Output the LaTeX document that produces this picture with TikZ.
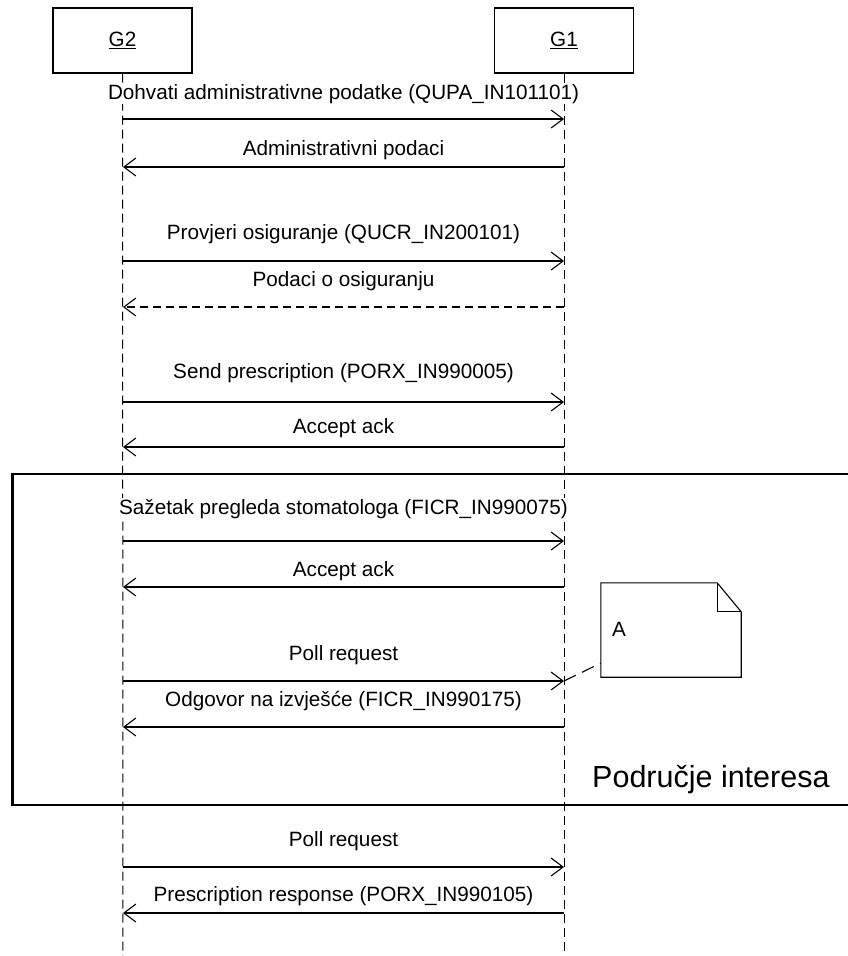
\documentclass[tikz,border=0pt]{standalone}
\usepackage{fontspec}
\setmainfont{Liberation Sans}
\usetikzlibrary{arrows.meta}
\begin{document}
\begin{tikzpicture}[x=1pt,y=-1pt,
  txt/.style={font=\fontsize{20.7}{25}\selectfont},
  actor/.style={draw,line width=1.2pt,minimum width=139pt,minimum height=65pt,inner sep=0pt,txt},
  lifeline/.style={line width=1pt,dash pattern=on 9pt off 5pt},
  msg/.style={line width=1.1pt,-{Straight Barb[length=12pt,width=18pt]}},
  reply/.style={msg,dash pattern=on 8pt off 5pt},
  lbl/.style={anchor=base,fill=white,inner sep=0.6pt,txt},
  frameline/.style={line width=2.7pt},
  notebox/.style={line width=1.1pt,fill=white},
  notelink/.style={line width=1.1pt,dash pattern=on 13pt off 7pt},
  bigtxt/.style={anchor=base west,inner sep=0pt,font=\fontsize{30.5}{36}\selectfont}]
\useasboundingbox (0,0) rectangle (848,956);
\clip (0,0) rectangle (848,956);
% actors
\node[actor] (g2) at (122.5,40.5) {\underline{G2}};
\node[actor] (g1) at (564,40.5) {\underline{G1}};
\coordinate (g2end) at (123,960);
\coordinate (g1end) at (564,960);
\draw[lifeline] (g2.south) -- (g2end);
\draw[lifeline] (g1.south) -- (g1end);
% message endpoints
\foreach \i/\y in {1/119,2/167,3/261,4/307,5/402,6/447,7/541,8/587,9/681,10/727,11/867,12/913}{
  \coordinate (a\i) at (123,\y);
  \coordinate (b\i) at (564,\y);
}
\draw[msg] (a1) -- (b1);
\draw[msg] (b2) -- (a2);
\draw[msg] (a3) -- (b3);
\draw[reply] (b4) -- (a4);
\draw[msg] (a5) -- (b5);
\draw[msg] (b6) -- (a6);
\draw[msg] (a7) -- (b7);
\draw[msg] (b8) -- (a8);
\draw[msg] (a9) -- (b9);
\draw[msg] (b10) -- (a10);
\draw[msg] (a11) -- (b11);
\draw[msg] (b12) -- (a12);
% labels
\node[lbl] (t1) at (343.5,99) {Dohvati administrativne podatke (QUPA\_IN101101)};
\node[lbl] (t2) at (343.5,155) {Administrativni podaci};
\node[lbl] (t3) at (343.5,239) {Provjeri osiguranje (QUCR\_IN200101)};
\node[lbl] (t4) at (343.5,286) {Podaci o osiguranju};
\node[lbl] (t5) at (343.5,378) {Send prescription (PORX\_IN990005)};
\node[lbl] (t6) at (343.5,433) {Accept ack};
\node[lbl] (t7) at (343.5,514) {Sažetak pregleda stomatologa (FICR\_IN990075)};
\node[lbl] (t8) at (343.5,576) {Accept ack};
\node[lbl] (t9) at (343.5,660) {Poll request};
\node[lbl] (t10) at (343.5,706) {Odgovor na izvješće (FICR\_IN990175)};
\node[lbl] (t11) at (343.5,846) {Poll request};
\node[lbl] (t12) at (343.5,901) {Prescription response (PORX\_IN990105)};
% region of interest frame
\draw[frameline] (12.7,474) rectangle (870,805);
\node[bigtxt] (roi) at (592,787) {Područje interesa};
% note
\node[minimum width=140pt,minimum height=94pt,inner sep=0pt] (note) at (671,630) {};
\coordinate (notept) at (601,663);
\draw[notelink] (b9) -- (notept);
\draw[notebox] (note.south west) -- (note.north west) -- ([xshift=-24pt]note.north east)
  -- ([yshift=-29pt]note.north east) -- (note.south east) -- cycle;
\draw[line width=1.1pt] ([xshift=-24pt]note.north east) -- ([xshift=-24pt,yshift=-29pt]note.north east)
  -- ([yshift=-29pt]note.north east);
\node[txt,anchor=base west,inner sep=0pt] (atext) at (612,636) {A};
\end{tikzpicture}
\end{document}
